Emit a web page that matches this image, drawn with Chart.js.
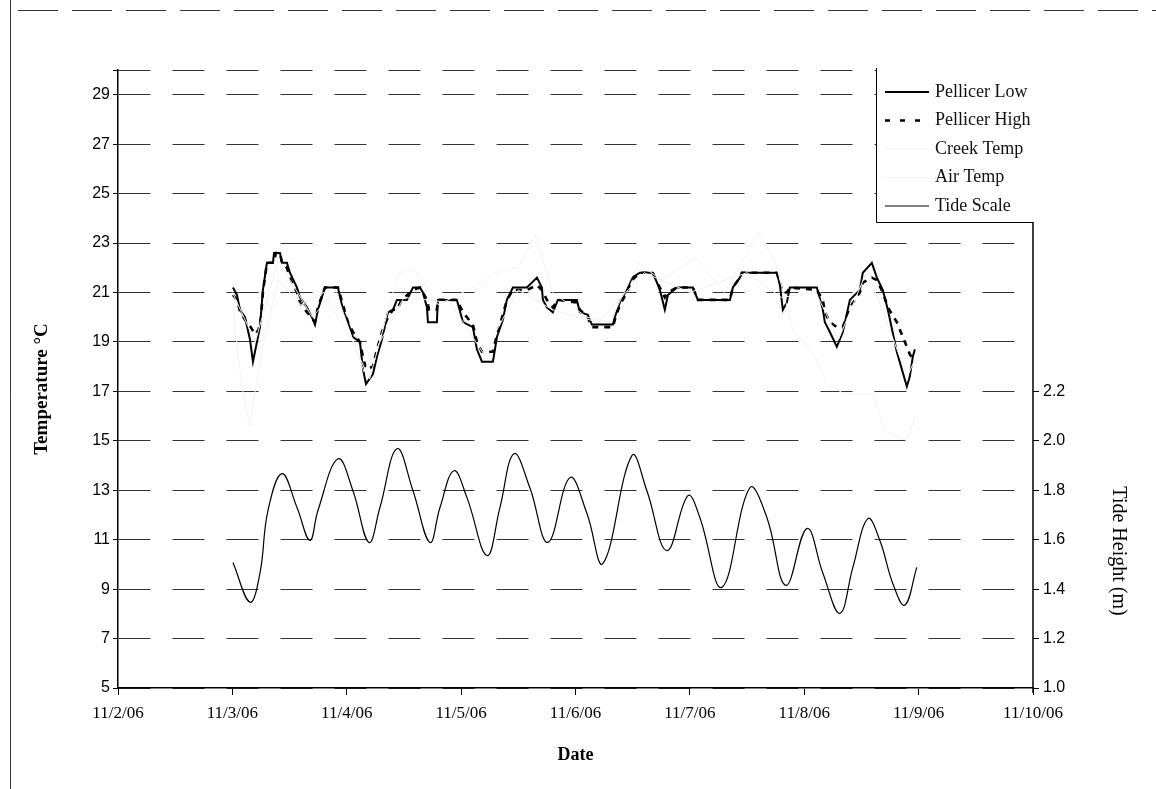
<!DOCTYPE html>
<html>
<head>
<meta charset="utf-8">
<script src="https://cdn.jsdelivr.net/npm/chart.js@4.4.0/dist/chart.umd.min.js"></script>
<style>
  html, body { margin: 0; padding: 0; background: #fff; }
  #caja { width: 1156px; height: 789px; }
</style>
</head>
<body>
<div id="caja"><canvas id="grafico" width="1156" height="789"></canvas></div>
<script>
// x values are days after 11/2/06
const dateLabels = ["11/2/06", "11/3/06", "11/4/06", "11/5/06", "11/6/06", "11/7/06", "11/8/06", "11/9/06", "11/10/06"];
const tempTicks = [5, 7, 9, 11, 13, 15, 17, 19, 21, 23, 25, 27, 29];
const tideTicks = [1.0, 1.2, 1.4, 1.6, 1.8, 2.0, 2.2];

const lowDay = [1.005, 1.040, 1.066, 1.110, 1.154, 1.180, 1.215, 1.241, 1.267, 1.302, 1.355, 1.364, 1.416, 1.434, 1.477, 1.503, 1.565, 1.591, 1.652, 1.705, 1.722, 1.748, 1.809, 1.923, 1.967, 2.010, 2.054, 2.115, 2.142, 2.168, 2.229, 2.264, 2.308, 2.360, 2.404, 2.439, 2.526, 2.579, 2.640, 2.666, 2.701, 2.710, 2.788, 2.797, 2.963, 3.016, 3.103, 3.138, 3.182, 3.278, 3.313, 3.365, 3.400, 3.453, 3.575, 3.663, 3.706, 3.715, 3.750, 3.802, 3.846, 4.012, 4.038, 4.108, 4.143, 4.327, 4.344, 4.388, 4.449, 4.493, 4.563, 4.677, 4.712, 4.738, 4.781, 4.808, 4.886, 5.026, 5.070, 5.350, 5.376, 5.437, 5.455, 5.760, 5.787, 5.813, 5.848, 5.874, 6.110, 6.163, 6.180, 6.224, 6.285, 6.337, 6.399, 6.486, 6.512, 6.591, 6.635, 6.687, 6.731, 6.809, 6.853, 6.897, 6.923, 6.949, 6.967];
const lowTemp = [21.2, 20.9, 20.3, 20.0, 19.1, 18.2, 19.0, 19.6, 21.1, 22.2, 22.2, 22.6, 22.6, 22.2, 22.2, 21.8, 21.2, 20.8, 20.4, 19.9, 19.7, 20.3, 21.2, 21.2, 20.3, 19.8, 19.2, 19.0, 17.9, 17.3, 17.7, 18.4, 19.1, 20.2, 20.3, 20.7, 20.7, 21.2, 21.2, 21.0, 20.4, 19.8, 19.8, 20.7, 20.7, 19.8, 19.6, 18.7, 18.2, 18.2, 19.2, 19.9, 20.7, 21.2, 21.2, 21.6, 21.2, 20.7, 20.4, 20.2, 20.7, 20.7, 20.2, 20.1, 19.7, 19.7, 20.0, 20.6, 21.1, 21.6, 21.8, 21.8, 21.4, 21.1, 20.3, 20.9, 21.2, 21.2, 20.7, 20.7, 21.2, 21.6, 21.8, 21.8, 21.3, 20.3, 20.6, 21.2, 21.2, 20.3, 19.8, 19.4, 18.8, 19.4, 20.7, 21.1, 21.8, 22.2, 21.6, 21.1, 20.3, 18.6, 17.9, 17.2, 17.6, 18.4, 18.7];

const highDay = [1.005, 1.040, 1.070, 1.110, 1.160, 1.200, 1.230, 1.250, 1.267, 1.302, 1.364, 1.380, 1.416, 1.434, 1.477, 1.503, 1.565, 1.591, 1.652, 1.705, 1.722, 1.748, 1.809, 1.923, 1.967, 2.010, 2.054, 2.115, 2.142, 2.168, 2.229, 2.264, 2.308, 2.360, 2.404, 2.439, 2.480, 2.579, 2.640, 2.666, 2.701, 2.720, 2.788, 2.797, 2.963, 3.016, 3.103, 3.138, 3.182, 3.278, 3.313, 3.365, 3.400, 3.453, 3.575, 3.663, 3.706, 3.750, 3.802, 3.846, 4.012, 4.038, 4.108, 4.143, 4.327, 4.344, 4.388, 4.449, 4.493, 4.563, 4.677, 4.712, 4.738, 4.781, 4.808, 4.886, 5.026, 5.070, 5.350, 5.376, 5.437, 5.455, 5.760, 5.787, 5.813, 5.848, 5.874, 6.110, 6.163, 6.180, 6.224, 6.285, 6.337, 6.399, 6.486, 6.512, 6.591, 6.635, 6.687, 6.731, 6.809, 6.853, 6.897, 6.923, 6.967];
const highTemp = [20.9, 20.7, 20.2, 19.9, 19.6, 19.3, 19.5, 20.0, 21.0, 22.2, 22.2, 22.6, 22.6, 22.2, 22.0, 21.6, 21.0, 20.6, 20.2, 19.9, 19.8, 20.4, 21.2, 21.2, 20.5, 19.8, 19.4, 19.0, 18.4, 17.9, 18.0, 18.7, 19.4, 20.0, 20.3, 20.3, 20.7, 21.1, 21.2, 21.0, 20.7, 20.3, 20.3, 20.7, 20.7, 20.2, 19.7, 19.0, 18.6, 18.6, 19.3, 20.1, 20.7, 21.1, 21.1, 21.3, 21.1, 20.7, 20.4, 20.7, 20.6, 20.3, 20.0, 19.6, 19.6, 19.9, 20.5, 21.0, 21.5, 21.8, 21.8, 21.4, 21.2, 20.8, 21.0, 21.2, 21.2, 20.7, 20.7, 21.2, 21.6, 21.8, 21.8, 21.4, 21.0, 21.0, 21.2, 21.1, 20.7, 20.2, 19.8, 19.6, 19.6, 20.4, 21.0, 21.4, 21.6, 21.5, 21.0, 20.4, 19.8, 19.3, 18.8, 18.5, 18.2];

const creekDay = [1.00, 1.20, 1.40, 1.70, 1.90, 2.15, 2.50, 2.90, 3.20, 3.50, 3.80, 4.20, 4.60, 5.00, 5.50, 5.80, 6.10, 6.30, 6.55, 6.90, 6.97];
const creekTemp = [21.0, 19.0, 22.3, 20.0, 21.1, 17.8, 20.8, 20.6, 18.5, 21.1, 20.3, 19.8, 21.8, 21.0, 21.8, 20.8, 21.0, 19.1, 21.9, 17.6, 18.3];

const airDay = [1.00, 1.08, 1.15, 1.25, 1.40, 1.60, 1.80, 2.05, 2.20, 2.45, 2.60, 2.80, 3.10, 3.30, 3.50, 3.65, 3.80, 4.10, 4.30, 4.55, 4.75, 5.05, 5.30, 5.60, 5.75, 5.90, 6.10, 6.20, 6.35, 6.60, 6.70, 6.90, 6.97];
const airTemp = [20.5, 17.3, 15.6, 18.5, 21.5, 20.5, 21.0, 19.0, 17.5, 21.8, 21.9, 20.5, 21.2, 21.8, 22.0, 23.3, 21.0, 20.0, 19.8, 22.2, 21.5, 22.4, 21.0, 23.4, 22.2, 19.5, 18.4, 17.3, 16.9, 16.9, 15.4, 15.0, 16.0];

const tideDay = [1.005, 1.154, 1.241, 1.311, 1.434, 1.565, 1.678, 1.748, 1.923, 2.054, 2.194, 2.290, 2.439, 2.579, 2.727, 2.815, 2.937, 3.051, 3.226, 3.339, 3.462, 3.601, 3.759, 3.951, 4.100, 4.240, 4.493, 4.624, 4.799, 4.983, 5.087, 5.280, 5.524, 5.673, 5.839, 6.023, 6.163, 6.311, 6.425, 6.556, 6.661, 6.774, 6.879, 6.984];
const tideHeight = [1.508, 1.347, 1.464, 1.718, 1.867, 1.730, 1.597, 1.718, 1.927, 1.798, 1.589, 1.730, 1.968, 1.798, 1.589, 1.730, 1.879, 1.770, 1.536, 1.730, 1.948, 1.810, 1.589, 1.851, 1.706, 1.504, 1.940, 1.798, 1.556, 1.778, 1.690, 1.407, 1.810, 1.690, 1.415, 1.645, 1.464, 1.302, 1.488, 1.685, 1.597, 1.423, 1.335, 1.488];

const pares = (xs, ys) => xs.map((x, i) => ({ x: x, y: ys[i] }));

const series = [
  { label: "Pellicer Low", color: "#000", width: 2, dash: [] },
  { label: "Pellicer High", color: "#000", width: 2.6, dash: [6, 6] },
  { label: "Creek Temp", color: "#f0f0f0", width: 1, dash: [] },
  { label: "Air Temp", color: "#f3f3f3", width: 1, dash: [] },
  { label: "Tide Scale", color: "#000", width: 1.2, dash: [] },
];

const serif = "'Liberation Serif', 'Times New Roman', serif";
const sans = "'Liberation Sans', Arial, sans-serif";

// page frame, titles, legend box and the short right axis line
const marco = {
  id: "marco",
  beforeDraw(chart) {
    const ctx = chart.ctx;
    ctx.save();
    ctx.fillStyle = "#fff";
    ctx.fillRect(0, 0, chart.width, chart.height);
    ctx.strokeStyle = "#333";
    ctx.lineWidth = 1;
    ctx.setLineDash([40, 14]);
    ctx.beginPath();
    ctx.moveTo(18, 10.5);
    ctx.lineTo(chart.width, 10.5);
    ctx.stroke();
    ctx.setLineDash([]);
    ctx.beginPath();
    ctx.moveTo(10.5, 0);
    ctx.lineTo(10.5, chart.height);
    ctx.stroke();
    ctx.restore();
  },
  afterDraw(chart) {
    const ctx = chart.ctx;
    const area = chart.chartArea;
    ctx.save();
    // legend box
    const bx = 876, by = area.top - 2, bw = area.right - bx, bh = 154;
    ctx.fillStyle = "#fff";
    ctx.fillRect(bx, by + 2, bw, bh - 2);
    ctx.strokeStyle = "#000";
    ctx.lineWidth = 1;
    ctx.beginPath();
    ctx.moveTo(bx + 0.5, by);
    ctx.lineTo(bx + 0.5, by + bh + 0.5);
    ctx.lineTo(bx + bw, by + bh + 0.5);
    ctx.stroke();
    ctx.font = "18px " + serif;
    ctx.textBaseline = "middle";
    ctx.textAlign = "left";
    series.forEach((s, i) => {
      const y = by + 24 + i * 28.5;
      ctx.strokeStyle = s.color;
      ctx.lineWidth = s.width;
      ctx.setLineDash(s.dash.length ? [5, 10] : []);
      ctx.beginPath();
      ctx.moveTo(885, y);
      ctx.lineTo(929, y);
      ctx.stroke();
      ctx.setLineDash([]);
      ctx.fillStyle = "#111";
      ctx.fillText(s.label, 935, y);
    });
    // right axis line, drawn only below the legend box
    const y2 = chart.scales.y2;
    ctx.strokeStyle = "#000";
    ctx.lineWidth = 1.5;
    ctx.beginPath();
    ctx.moveTo(area.right, by + bh);
    ctx.lineTo(area.right, y2.bottom + 5);
    ctx.stroke();
    // axis titles
    ctx.fillStyle = "#000";
    ctx.textAlign = "center";
    ctx.font = "bold 18px " + serif;
    ctx.fillText("Date", (area.left + area.right) / 2, 755);
    ctx.save();
    ctx.translate(42, (area.top + area.bottom) / 2 + 10);
    ctx.rotate(-Math.PI / 2);
    ctx.font = "bold 19px " + serif;
    ctx.fillText("Temperature \u00b0C", 0, 0);
    ctx.restore();
    ctx.save();
    ctx.translate(1118, 551);
    ctx.rotate(Math.PI / 2);
    ctx.font = "20px " + serif;
    ctx.fillText("Tide Height (m)", 0, 0);
    ctx.restore();
    ctx.restore();
  },
};

const hacerDataset = (s, data, axis) => ({
  label: s.label,
  data: data,
  yAxisID: axis,
  borderColor: s.color,
  borderWidth: s.width,
  borderDash: s.dash,
  pointRadius: 0,
  fill: false,
  tension: 0,
});

const dsCreek = hacerDataset(series[2], pares(creekDay, creekTemp), "y");
const dsAir = hacerDataset(series[3], pares(airDay, airTemp), "y");
const dsTide = hacerDataset(series[4], pares(tideDay, tideHeight), "y2");
dsTide.tension = 0.4;
const dsHigh = hacerDataset(series[1], pares(highDay, highTemp), "y");
const dsLow = hacerDataset(series[0], pares(lowDay, lowTemp), "y");

Chart.defaults.font.family = serif;
Chart.defaults.color = "#000";

new Chart(document.getElementById("grafico"), {
  type: "line",
  data: { datasets: [dsCreek, dsAir, dsTide, dsHigh, dsLow] },
  options: {
    responsive: false,
    animation: false,
    layout: { padding: { top: 70, left: 0, right: 0, bottom: 0 } },
    plugins: { legend: { display: false }, tooltip: { enabled: false } },
    scales: {
      x: {
        type: "linear",
        min: 0,
        max: 8,
        afterBuildTicks: (scale) => { scale.ticks = dateLabels.map((d, i) => ({ value: i })); },
        afterFit: (scale) => { scale.height = 101; },
        ticks: {
          font: { size: 17, family: serif },
          padding: 8,
          maxRotation: 0,
          autoSkip: false,
          callback: (v) => dateLabels[v],
        },
        grid: { drawOnChartArea: false, tickLength: 7, tickColor: "#000" },
        border: { color: "#000", width: 1.5 },
      },
      y: {
        type: "linear",
        position: "left",
        min: 5,
        max: 30,
        afterBuildTicks: (scale) => { scale.ticks = tempTicks.concat([30]).map((v) => ({ value: v })); },
        afterFit: (scale) => { scale.width = 118; },
        ticks: {
          font: { size: 16, family: sans },
          padding: 3,
          callback: (v) => (v === 30 ? "" : String(v)),
        },
        grid: { color: "#333", lineWidth: 1, tickLength: 5, tickColor: "#000" },
        border: { color: "#000", width: 1.5, dash: [32, 22] },
      },
      y2: {
        type: "linear",
        position: "right",
        min: 1.0,
        max: 3.5,
        afterBuildTicks: (scale) => { scale.ticks = tideTicks.map((v) => ({ value: v })); },
        afterFit: (scale) => { scale.width = 123; },
        ticks: {
          font: { size: 16, family: sans },
          padding: 4,
          callback: (v) => v.toFixed(1),
        },
        grid: { drawOnChartArea: false, tickLength: 6, tickColor: "#000" },
        border: { display: false },
      },
    },
  },
  plugins: [marco],
});
</script>
</body>
</html>
